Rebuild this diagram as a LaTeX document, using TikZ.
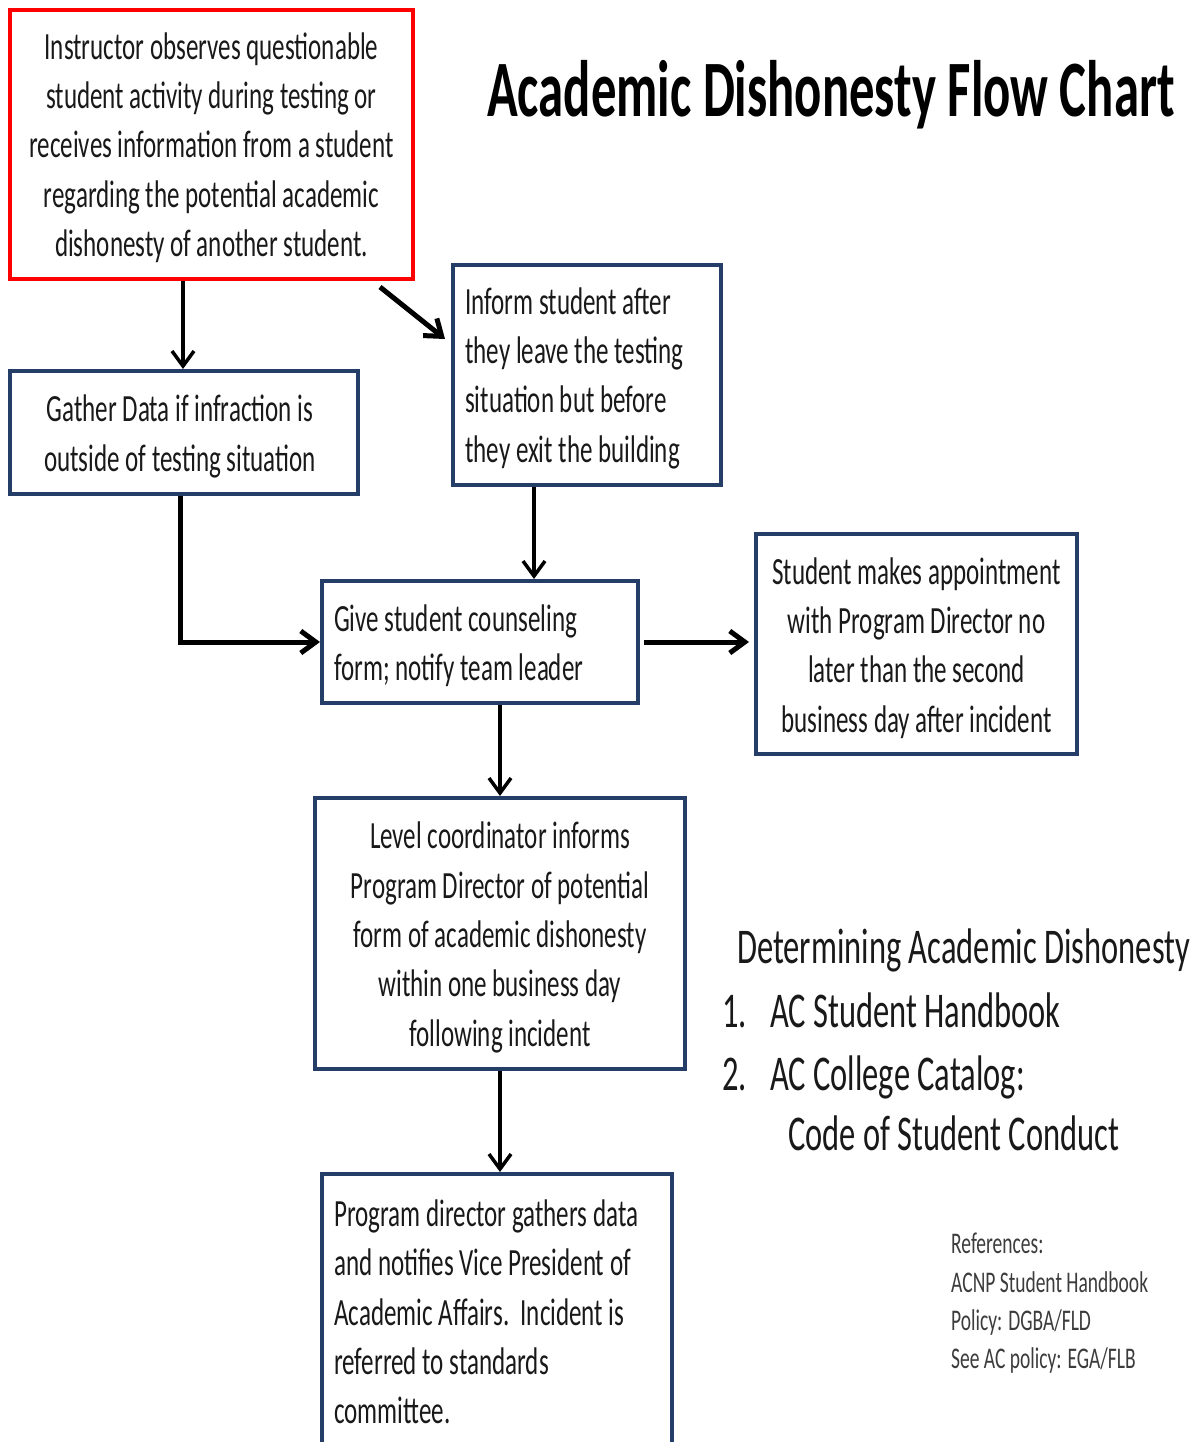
\documentclass[tikz,border=0pt]{standalone}
\usepackage{fontspec}
\setmainfont[FakeStretch=0.65]{Carlito}
\newfontfamily\titlefont[FakeStretch=0.634]{Carlito}
\usetikzlibrary{arrows.meta,calc}
\definecolor{navy}{RGB}{36,62,104}
\definecolor{boxred}{RGB}{255,0,0}
\definecolor{txt}{RGB}{25,25,25}
\definecolor{reftxt}{RGB}{60,60,60}
\tikzset{
  box/.style={draw=navy, line width=4pt, inner sep=0pt},
  redbox/.style={box, draw=boxred},
  boxtext/.style={inner sep=0pt, text=txt, font=\fontsize{38.5}{49.3}\selectfont},
  lefttext/.style={boxtext, align=left, anchor=west},
  midtext/.style={boxtext, align=center},
  arr/.style={line width=3.5pt, -{Straight Barb[length=15pt,width=22pt]}},
  arrthick/.style={arr, line width=5pt},
  side/.style={inner sep=0pt, anchor=base west, text=txt, font=\fontsize{50}{60}\selectfont},
  reftext/.style={inner sep=0pt, anchor=base west, text=reftxt, font=\fontsize{30}{38}\selectfont},
}
\begin{document}
\begin{tikzpicture}[x=1pt,y=-1pt]
\fill[white] (0,0) rectangle (1197,1442);
\useasboundingbox (0,0) rectangle (1197,1442);

% title
\node[inner sep=0pt, anchor=base west, text=black,
  font=\titlefont\bfseries\fontsize{80}{96}\selectfont] (title) at (487,117)
  {Academic Dishonesty Flow Chart};

% boxes
\node[redbox, minimum width=403pt, minimum height=269pt] (start) at (211.5,144.5) {};
\node[midtext] (starttext) at ([yshift=-3pt]start.center)
  {Instructor observes questionable\\student activity during testing or\\receives information from a student\\regarding the potential academic\\dishonesty of another student.};

\node[box, minimum width=348pt, minimum height=123pt] (gather) at (184,432.5) {};
\node[midtext] (gathertext) at ([xshift=-4pt,yshift=-4pt]gather.center)
  {Gather Data if infraction is\\outside of testing situation};

\node[box, minimum width=268pt, minimum height=220pt] (inform) at (587,375) {};
\node[lefttext] (informtext) at ([xshift=14pt,yshift=-3pt]inform.west)
  {Inform student after\\they leave the testing\\situation but before\\they exit the building};

\node[box, minimum width=316pt, minimum height=122pt] (give) at (480,642) {};
\node[lefttext] (givetext) at ([xshift=14pt,yshift=-4pt]give.west)
  {Give student counseling\\form; notify team leader};

\node[box, minimum width=321pt, minimum height=220pt] (appt) at (916.5,644) {};
\node[midtext] (appttext) at ([yshift=-4pt]appt.center)
  {Student makes appointment\\with Program Director no\\later than the second\\business day after incident};

\node[box, minimum width=370pt, minimum height=271pt] (level) at (500,933.5) {};
\node[midtext] (leveltext) at ([yshift=-4pt]level.center)
  {Level coordinator informs\\Program Director of potential\\form of academic dishonesty\\within one business day\\following incident};

\node[box, minimum width=350pt, minimum height=272pt] (prog) at (497,1310) {};
\node[lefttext] (progtext) at ([xshift=14pt,yshift=-2pt]prog.west)
  {Program director gathers data\\and notifies Vice President of\\Academic Affairs.\ \ Incident is\\referred to standards\\committee.};

% side text
\node[side] (det) at (737,963) {Determining Academic Dishonesty};
\node[side] (n1) at (722,1027) {1.};
\node[side] (i1) at (770,1027) {AC Student Handbook};
\node[side] (n2) at (722,1090) {2.};
\node[side] (i2) at (770,1090) {AC College Catalog:};
\node[side] (i3) at (788,1150) {Code of Student Conduct};

% references
\node[reftext] (r1) at (951,1253) {References:};
\node[reftext] (r2) at (951,1292) {ACNP Student Handbook};
\node[reftext] (r3) at (951,1330) {Policy: DGBA/FLD};
\node[reftext] (r4) at (951,1368) {See AC policy: EGA/FLB};

% connectors
\coordinate (d1) at (380,287);
\coordinate (d2) at (445,339);
\draw[arr] ([xshift=-1pt]gather.north |- start.south) -- ([xshift=-1pt]gather.north);
\draw[arrthick] (d1) -- (d2);
\draw[arr] ([xshift=-53pt]inform.south) -- ([xshift=-53pt]inform.south |- give.north);
\draw[arrthick] ([xshift=-4pt]gather.south) |- (give.west);
\draw[arrthick, shorten <=4pt, shorten >=5pt] (give.east) -- (give.east -| appt.west);
\draw[arr] (level.north |- give.south) -- (level.north);
\draw[arr] (level.south) -- (level.south |- prog.north);
\end{tikzpicture}
\end{document}
